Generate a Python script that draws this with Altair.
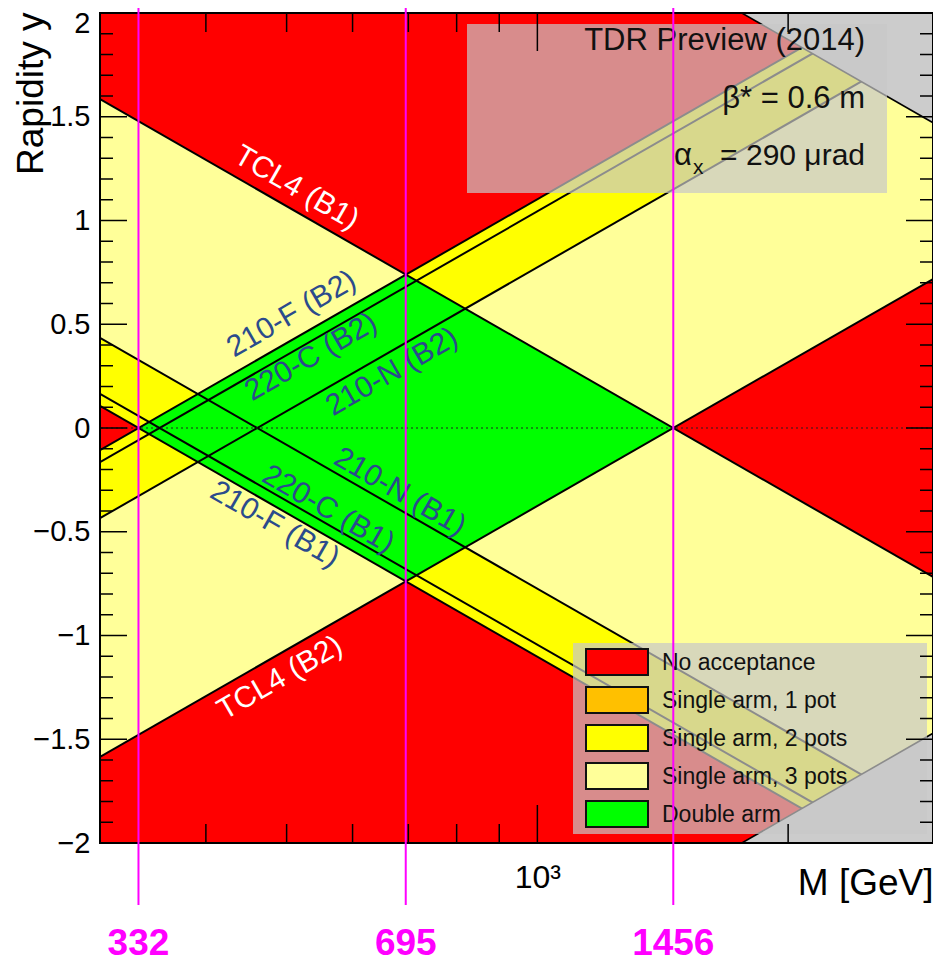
import numpy as np
import pandas as pd
import altair as alt

# ---------------- data ----------------
m_axis = [298.5, 2985.0]                 # M axis range [GeV]
y_axis = [-2.0, 2.0]                     # rapidity range
pot_names = ["210-F", "220-C", "210-N"]
pot_m_min = [332.0, 352.0, 461.0]        # M (at y=0) where each pot starts to accept
tcl4_m_max = 1456.0                      # TCL4 limit
sqrt_s = 13000.0                         # kinematic limit
marked_masses = [332, 695, 1456]

legend_labels = ["No acceptance", "Single arm, 1 pot", "Single arm, 2 pots",
                 "Single arm, 3 pots", "Double arm"]
legend_colors = ["#FF0000", "#FFC000", "#FFFF00", "#FFFF99", "#00FF00"]
gray_color = "#CCCCCC"

info_lines = ["TDR Preview (2014)", "β* = 0.6 m"]

y_major_ticks = [-2, -1.5, -1, -0.5, 0, 0.5, 1, 1.5, 2]
y_minor_ticks = [v / 10 for v in range(-19, 20) if v % 5 != 0]
x_minor_ticks = [400, 500, 600, 700, 800, 900, 2000]
x_major_ticks = [1000]

# line labels: text, M, y, angle, colour
label_text = ["TCL4 (B1)", "TCL4 (B2)", "210-F (B2)", "220-C (B2)", "210-N (B2)",
              "210-N (B1)", "220-C (B1)", "210-F (B1)"]
label_m = [514, 491, 507, 535, 669, 684, 561, 484]
label_y = [1.157, -1.205, 0.549, 0.342, 0.270, -0.308, -0.392, -0.465]
label_angle = [30, 330, 330, 330, 330, 30, 30, 30]
label_color = ["white", "white", "#2B4B8C", "#2B4B8C", "#2B4B8C", "#2B4B8C", "#2B4B8C", "#2B4B8C"]

FONT = "Liberation Sans"
W, H = 833, 830

xscale = alt.Scale(type="log", domain=m_axis, nice=False)
yscale = alt.Scale(domain=y_axis, nice=False, zero=False)


def X(field="M"):
    return alt.X(f"{field}:Q", scale=xscale)


def Y(field="y"):
    return alt.Y(f"{field}:Q", scale=yscale)


# ---------------- geometry from thresholds ----------------
M = np.array(m_axis)


def arm_band(c_lo, c_hi, sign):
    a = np.log(c_lo / M)
    b = np.log(c_hi / M)
    if sign > 0:
        lo, hi = a, b
    else:
        lo, hi = -b, -a
    return pd.DataFrame({"M": M, "lo": lo, "hi": hi})


# background (no acceptance) – carries the axes
bg = pd.DataFrame({"M": M, "lo": [y_axis[0]] * 2, "hi": [y_axis[1]] * 2})
layers = []
layers.append(
    alt.Chart(bg).mark_area(color=legend_colors[0], clip=True).encode(
        x=alt.X("M:Q", scale=xscale,
                axis=alt.Axis(values=[1000], labelExpr="'10³'", ticks=False, domain=False,
                              grid=False, labelFontSize=32, labelFont=FONT, labelColor="black",
                              labelPadding=19, labelBaseline="top", labelFlush=False,
                              title="M [GeV]", titleFontSize=37, titleFont=FONT,
                              titleFontWeight="normal", titleColor="black", titleAnchor="end",
                              titleAlign="right", titleBaseline="alphabetic", titleX=W, titleY=51)),
        y=alt.Y("lo:Q", scale=yscale,
                axis=alt.Axis(values=y_major_ticks, format="~g", ticks=False, domain=False,
                              grid=False, labelFontSize=29, labelFont=FONT, labelColor="black",
                              labelPadding=10, labelFlush=False, labelOverlap=False,
                              labelBaseline="middle", labelAlign="right",
                              labelOffset={"condition": {"test": "datum.value == 2", "value": 10},
                                           "value": 0},
                              title="Rapidity y", titleFontSize=37, titleFont=FONT,
                              titleFontWeight="normal", titleColor="black", titleAnchor="end",
                              titleAngle=-90, titleAlign="right", titleBaseline="alphabetic",
                              titleX=-58, titleY=-1)),
        y2="hi:Q",
    )
)

# single-arm bands: arm B1 (sign +1) then arm B2 (sign -1) on top
for sign in (+1, -1):
    for c_lo, c_hi, col in [(pot_m_min[0], pot_m_min[2], legend_colors[2]),
                            (pot_m_min[2], tcl4_m_max, legend_colors[3])]:
        layers.append(
            alt.Chart(arm_band(c_lo, c_hi, sign)).mark_area(color=col, clip=True).encode(
                x=X(), y=Y("lo"), y2="hi:Q")
        )

# double arm diamond
m_lo, m_hi = pot_m_min[0], tcl4_m_max
m_mid = np.sqrt(m_lo * m_hi)
Md = np.array([m_lo, m_mid, m_hi])
d_lo = np.maximum(np.log(m_lo / Md), np.log(Md / m_hi))
d_hi = np.minimum(np.log(m_hi / Md), np.log(Md / m_lo))
diamond = pd.DataFrame({"M": Md, "lo": d_lo, "hi": d_hi})
layers.append(
    alt.Chart(diamond).mark_area(color=legend_colors[4], clip=True).encode(
        x=X(), y=Y("lo"), y2="hi:Q")
)

# acceptance lines
rows = []
for i, c in enumerate(pot_m_min + [tcl4_m_max]):
    for sign in (+1, -1):
        for m in m_axis:
            rows.append({"id": f"{i}_{sign}", "M": m, "y": sign * np.log(c / m)})
lines = pd.DataFrame(rows)
layers.append(
    alt.Chart(lines).mark_line(color="black", strokeWidth=2, clip=True).encode(
        x=X(), y=Y(), detail="id:N")
)

# dotted y = 0
layers.append(
    alt.Chart(pd.DataFrame({"y": [0.0]})).mark_rule(
        color="#222222", strokeWidth=1.2, strokeDash=[2, 3]).encode(y=Y())
)

# kinematic limit (grey)
g_top = pd.DataFrame({"M": M, "lo": np.log(sqrt_s / M), "hi": [y_axis[1]] * 2})
g_bot = pd.DataFrame({"M": M, "lo": [y_axis[0]] * 2, "hi": -np.log(sqrt_s / M)})
for g in (g_top, g_bot):
    layers.append(
        alt.Chart(g).mark_area(color=gray_color, clip=True).encode(x=X(), y=Y("lo"), y2="hi:Q")
    )
g_rows = []
for sign in (+1, -1):
    for m in m_axis:
        g_rows.append({"id": str(sign), "M": m, "y": sign * np.log(sqrt_s / m)})
layers.append(
    alt.Chart(pd.DataFrame(g_rows)).mark_line(color="black", strokeWidth=1.6, clip=True).encode(
        x=X(), y=Y(), detail="id:N")
)

# line labels
lab = pd.DataFrame({"text": label_text, "M": label_m, "y": label_y,
                    "angle": label_angle, "color": label_color})
layers.append(
    alt.Chart(lab).mark_text(font=FONT, fontSize=30, align="center", baseline="middle").encode(
        x=X(), y=Y(), text="text:N",
        angle=alt.Angle("angle:Q", scale=None),
        color=alt.Color("color:N", scale=None))
)

one = pd.DataFrame({"k": [0]})
BOX_FILL = "#C8C8C8"
BOX_OP = 0.7

# info box
layers.append(
    alt.Chart(one).mark_rect(color=BOX_FILL, opacity=BOX_OP).encode(
        x=alt.value(367), x2=alt.value(787), y=alt.value(11), y2=alt.value(180))
)
for txt, yb in zip(info_lines, [37, 95]):
    layers.append(
        alt.Chart(one).mark_text(font=FONT, fontSize=31, align="right", baseline="alphabetic",
                                 color="#111111").encode(
            x=alt.value(765), y=alt.value(yb), text=alt.value(txt))
    )
layers.append(
    alt.Chart(one).mark_text(font=FONT, fontSize=30, align="right", baseline="alphabetic",
                             color="#111111").encode(
        x=alt.value(765), y=alt.value(152), text=alt.value("= 290 μrad"))
)
layers.append(
    alt.Chart(one).mark_text(font=FONT, fontSize=31, align="right", baseline="alphabetic",
                             color="#111111").encode(
        x=alt.value(592), y=alt.value(152), text=alt.value("α"))
)
layers.append(
    alt.Chart(one).mark_text(font=FONT, fontSize=21, align="left", baseline="alphabetic",
                             color="#111111").encode(
        x=alt.value(593), y=alt.value(161), text=alt.value("x"))
)

# legend box
layers.append(
    alt.Chart(one).mark_rect(color=BOX_FILL, opacity=BOX_OP).encode(
        x=alt.value(473), x2=alt.value(827), y=alt.value(630), y2=alt.value(821))
)
for i, (lbl, col) in enumerate(zip(legend_labels, legend_colors)):
    yc = 649 + 38 * i
    layers.append(
        alt.Chart(one).mark_rect(color=col, stroke="#111111", strokeWidth=2).encode(
            x=alt.value(486), x2=alt.value(548), y=alt.value(yc - 13), y2=alt.value(yc + 13))
    )
    layers.append(
        alt.Chart(one).mark_text(font=FONT, fontSize=23, align="left", baseline="middle",
                                 color="#111111").encode(
            x=alt.value(562), y=alt.value(yc + 1), text=alt.value(lbl))
    )

# ticks (inside, on all four sides)
ymaj = pd.DataFrame({"y": y_major_ticks})
ymin = pd.DataFrame({"y": y_minor_ticks})
for df, L in ((ymaj, 27), (ymin, 13)):
    layers.append(alt.Chart(df).mark_rule(color="black", strokeWidth=1.5).encode(
        y=Y(), x=alt.value(0), x2=alt.value(L)))
    layers.append(alt.Chart(df).mark_rule(color="black", strokeWidth=1.5).encode(
        y=Y(), x=alt.value(W), x2=alt.value(W - L)))
xmaj = pd.DataFrame({"M": x_major_ticks})
xmin = pd.DataFrame({"M": x_minor_ticks})
for df, L in ((xmaj, 38), (xmin, 19)):
    layers.append(alt.Chart(df).mark_rule(color="black", strokeWidth=1.5).encode(
        x=X(), y=alt.value(H), y2=alt.value(H - L)))
    layers.append(alt.Chart(df).mark_rule(color="black", strokeWidth=1.5).encode(
        x=X(), y=alt.value(0), y2=alt.value(L)))

# frame
layers.append(
    alt.Chart(one).mark_rect(filled=False, stroke="black", strokeWidth=2).encode(
        x=alt.value(0), x2=alt.value(W), y=alt.value(0), y2=alt.value(H))
)

# marked masses
mm = pd.DataFrame({"M": marked_masses, "t": [str(v) for v in marked_masses]})
layers.append(
    alt.Chart(mm).mark_rule(color="#FF00FF", strokeWidth=2).encode(
        x=X(), y=alt.value(-5), y2=alt.value(892))
)
layers.append(
    alt.Chart(mm).mark_text(font=FONT, fontSize=37, fontWeight="bold", color="#FF00FF",
                            align="center", baseline="middle").encode(
        x=X(), y=alt.value(931), text="t:N")
)

chart = alt.layer(*layers).properties(
    width=W, height=H,
    autosize=alt.AutoSizeParams(type="none"),
    padding={"left": 92, "top": 5, "right": 0, "bottom": 122},
).configure(background="white", font=FONT).configure_view(strokeWidth=0)

chart.save("out.html", embed_options={"renderer": "svg", "actions": False})
